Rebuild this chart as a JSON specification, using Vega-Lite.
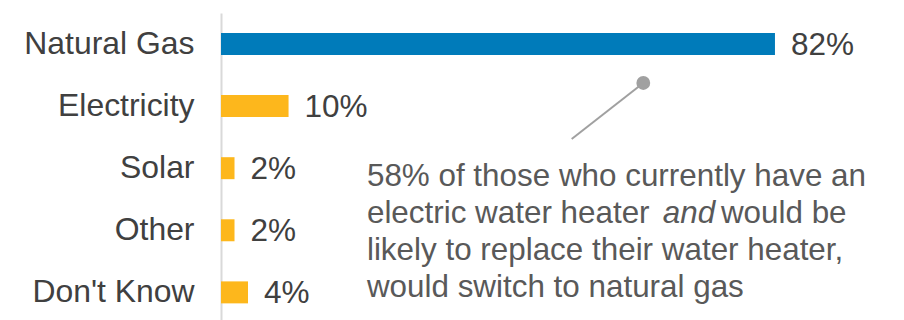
{
  "$schema": "https://vega.github.io/schema/vega-lite/v6.json",
  "width": 683,
  "height": 307,
  "autosize": {"type": "none"},
  "padding": {"left": 221, "top": 13, "right": 0, "bottom": 0},
  "background": "white",
  "config": {
    "view": {"stroke": null},
    "font": "Liberation Sans",
    "text": {"font": "Liberation Sans"}
  },
  "datasets": {
    "fuel": [
      {"fuel": "Natural Gas", "share": 82, "group": "gas"},
      {"fuel": "Electricity", "share": 10, "group": "other"},
      {"fuel": "Solar", "share": 2, "group": "other"},
      {"fuel": "Other", "share": 2, "group": "other"},
      {"fuel": "Don't Know", "share": 4, "group": "other"}
    ],
    "note": [
      {"x": 21.6, "row": 2.287, "text": "58% of those who currently have an"},
      {"x": 21.6, "row": 2.883, "text": "electric water heater"},
      {"x": 74.0, "row": 2.883, "text": "would be"},
      {"x": 21.6, "row": 3.479, "text": "likely to replace their water heater,"},
      {"x": 21.6, "row": 4.075, "text": "would switch to natural gas"}
    ],
    "noteEmphasis": [
      {"x": 65.4, "row": 2.883, "text": "and"}
    ],
    "pointer": [
      {"x": 51.91, "row": 1.53, "end": 0},
      {"x": 62.51, "row": 0.628, "end": 1}
    ]
  },
  "layer": [
    {
      "data": {"name": "fuel"},
      "transform": [{"calculate": "datum.share + '%'", "as": "shareLabel"}],
      "encoding": {
        "y": {
          "field": "fuel",
          "type": "nominal",
          "sort": null,
          "scale": {"paddingInner": 0.646, "paddingOuter": 0.295, "align": 0.546},
          "axis": {
            "title": null,
            "ticks": false,
            "grid": false,
            "domainColor": "#D9D9D9",
            "domainWidth": 2,
            "labelFontSize": 31.9,
            "labelColor": "#404040",
            "labelPadding": 27,
            "labelFont": "Liberation Sans"
          }
        },
        "x": {
          "field": "share",
          "type": "quantitative",
          "scale": {"domain": [0, 101.1], "nice": false},
          "axis": null
        }
      },
      "layer": [
        {
          "mark": {"type": "bar"},
          "encoding": {
            "color": {
              "field": "group",
              "type": "nominal",
              "scale": {"domain": ["gas", "other"], "range": ["#007BBA", "#FDB71C"]},
              "legend": null
            }
          }
        },
        {
          "mark": {"type": "text", "align": "left", "baseline": "middle", "dx": 16, "dy": 2, "fontSize": 31.5, "color": "#404040"},
          "encoding": {
            "text": {"field": "shareLabel", "type": "nominal"}
          }
        }
      ]
    },
    {
      "encoding": {
        "x": {"field": "x", "type": "quantitative", "scale": {"domain": [0, 101.1], "nice": false}, "axis": null},
        "y": {"field": "row", "type": "quantitative", "scale": {"domain": [-0.4993, 4.4452], "nice": false, "zero": false, "reverse": true}, "axis": null}
      },
      "layer": [
        {
          "data": {"name": "pointer"},
          "mark": {"type": "line", "color": "#A0A0A0", "strokeWidth": 2},
          "encoding": {"order": {"field": "end", "type": "quantitative"}}
        },
        {
          "data": {"name": "pointer"},
          "transform": [{"filter": "datum.end == 1"}],
          "mark": {"type": "circle", "color": "#A0A0A0", "opacity": 1, "size": 190},
          "encoding": {}
        },
        {
          "data": {"name": "note"},
          "mark": {"type": "text", "align": "left", "baseline": "alphabetic", "fontSize": 31.4, "color": "#595959"},
          "encoding": {"text": {"field": "text"}}
        },
        {
          "data": {"name": "noteEmphasis"},
          "mark": {"type": "text", "align": "left", "baseline": "alphabetic", "fontSize": 31.4, "fontStyle": "italic", "color": "#595959"},
          "encoding": {"text": {"field": "text"}}
        }
      ]
    }
  ],
  "resolve": {"scale": {"y": "independent"}}
}
